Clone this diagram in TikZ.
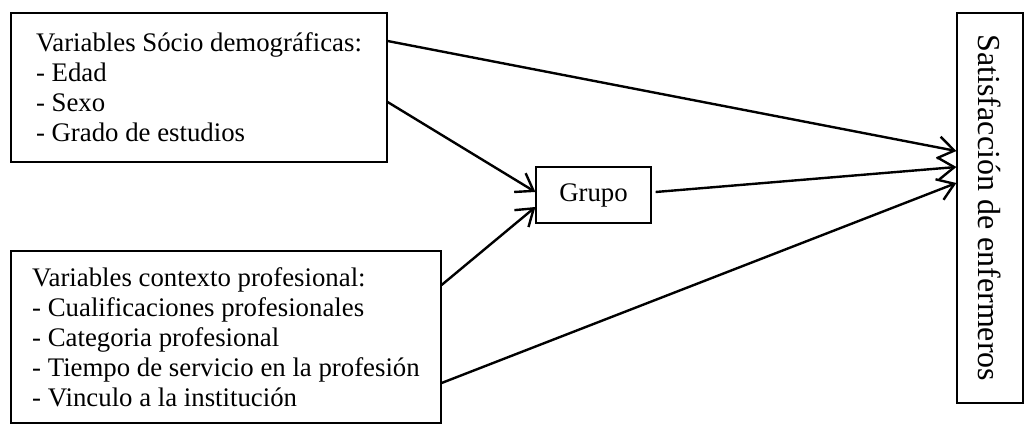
\documentclass[tikz,border=0pt]{standalone}
\usepackage{fontspec}
\setmainfont{Liberation Serif}
\usetikzlibrary{arrows.meta,positioning}
\tikzstyle{arrow} = [line width=1.2pt,-{Straight Barb[length=8pt,width=11pt,line width=1.2pt]}]
\tikzstyle{varbox} = [rectangle, draw=black, line width=0.6pt, align=left, inner sep=0pt, font=\fontsize{13.4}{15}\selectfont]
\tikzstyle{outcome} = [rectangle, draw=black, line width=0.6pt, inner sep=0pt, font=\fontsize{16}{18}\selectfont]
\begin{document}
\begin{tikzpicture}[x=0.5pt,y=-0.5pt]
\useasboundingbox (0,0) rectangle (1024,424);
%----------------------------------------------------------------------------
% Placement of nodes
\node (socioDemo) [varbox, minimum width=188pt, minimum height=74.5pt] at (199,87.5)
{Variables Sócio demográficas:\\ - Edad\\ - Sexo\\ - Grado de estudios};

\node (contexto) [varbox, minimum width=215pt, minimum height=86pt] at (226,337)
{Variables contexto profesional:\\ - Cualificaciones profesionales\\ - Categoria profesional\\ - Tiempo de servicio en la profesión\\ - Vinculo a la institución};

\node (grupo) [varbox, minimum width=57.5pt, minimum height=28pt] at (593.5,195)
{Grupo};

\node (satisf) [outcome, minimum width=33pt, minimum height=195pt] at (990,208)
{\rotatebox{-90}{Satisfacción de enfermeros}};

%----------------------------------------------------------------------------
% Drawing of arrows
\draw [arrow] ([yshift=23.25pt]socioDemo.east) -- ([yshift=28.5pt]satisf.west);
\draw [arrow] ([yshift=-7.25pt]socioDemo.east) -- ([yshift=1.5pt]grupo.west);
\draw [arrow] ([yshift=26pt]contexto.east) -- ([yshift=-6pt]grupo.west);
\draw [arrow] ([xshift=2pt,yshift=1.5pt]grupo.east) -- ([yshift=20.5pt]satisf.west);
\draw [arrow] ([yshift=-23pt]contexto.east) -- ([yshift=12.5pt]satisf.west);
\end{tikzpicture}
\end{document}
